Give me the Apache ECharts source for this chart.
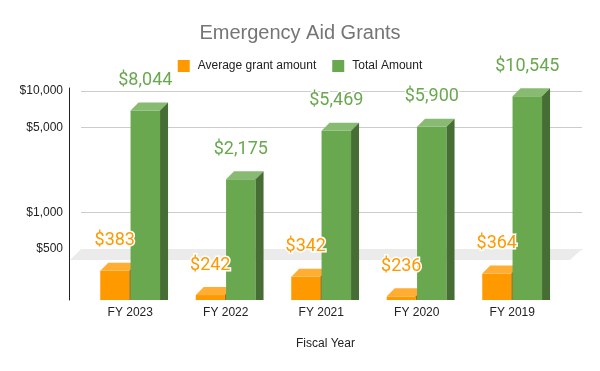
<!DOCTYPE html>
<html>
<head>
<meta charset="utf-8">
<script src="https://cdn.jsdelivr.net/npm/echarts@6/dist/echarts.min.js"></script>
<style>html,body{margin:0;padding:0;background:#fff}#c{width:600px;height:371px}</style>
</head>
<body>
<div id="c"></div>
<script>
const categories = ['FY 2023', 'FY 2022', 'FY 2021', 'FY 2020', 'FY 2019'];
const avgGrant = [383, 242, 342, 236, 364];
const totalAmount = [8044, 2175, 5469, 5900, 10545];
const yTicks = [500, 1000, 5000, 10000];
const seriesNames = ['Average grant amount', 'Total Amount'];

const Y_MIN = 220.3, Y_MAX = 10586;
const DEPTH = 8;

const palette = [
  { front: '#ff9900', top: '#ffad33', side: '#b36b00', x0: -30, w: 29 },
  { front: '#6aa84f', top: '#88ba72', side: '#466e34', x0: 0.3, w: 29.5 }
];

function fmt(v) { return '$' + v.toLocaleString('en-US'); }

function makeRender(si) {
  const p = palette[si];
  return function (params, api) {
    const idx = api.value(0), val = api.value(1);
    const pt = api.coord([idx, val]);
    const base = api.coord([idx, Y_MIN]);
    const x0 = pt[0] + p.x0, w = p.w;
    const yt = pt[1] + DEPTH, yb = base[1] + DEPTH;
    return { type: 'group', children: [
      { type: 'rect', shape: { x: x0, y: yt, width: w, height: yb - yt }, style: { fill: p.front } },
      { type: 'polygon', shape: { points: [[x0, yt], [x0 + w, yt], [x0 + w + DEPTH, yt - DEPTH], [x0 + DEPTH, yt - DEPTH]] }, style: { fill: p.top } },
      { type: 'polygon', shape: { points: [[x0 + w, yt], [x0 + w + DEPTH, yt - DEPTH], [x0 + w + DEPTH, yb], [x0 + w, yb]] }, style: { fill: p.side } }
    ] };
  };
}

function makeLabelRender(si) {
  const p = palette[si];
  return function (params, api) {
    const idx = api.value(0), val = api.value(1);
    const pt = api.coord([idx, val]);
    const cx = pt[0] + p.x0 + p.w / 2;
    const cy = pt[1] + DEPTH - 30;
    return { type: 'group', children: [
      { type: 'text', z2: 1, style: { text: fmt(val), x: cx, y: cy, align: 'center', verticalAlign: 'middle', font: '18px Roboto', fill: '#fff', stroke: '#fff', lineWidth: 3 } },
      { type: 'text', z2: 2, style: { text: fmt(val), x: cx, y: cy, align: 'center', verticalAlign: 'middle', font: '18px Roboto', fill: p.front } }
    ] };
  };
}

const chart = echarts.init(document.getElementById('c'), null, { renderer: 'canvas' });
chart.setOption({
  animation: false,
  textStyle: { fontFamily: 'Liberation Sans, Arial, sans-serif' },
  title: {
    text: 'Emergency Aid Grants', left: 'center', top: 18,
    textStyle: { fontSize: 20, fontWeight: 'normal', color: '#757575', fontFamily: 'Liberation Sans, Arial, sans-serif' }
  },
  legend: {
    top: 55, left: 'center', icon: 'rect', itemWidth: 12, itemHeight: 12, itemGap: 16,
    data: seriesNames,
    textStyle: { fontSize: 12, color: '#222', padding: [0, 0, 0, 3] }
  },
  graphic: [{
    type: 'polygon', z: 1,
    shape: { points: [[81, 249], [582, 249], [570, 260], [70, 260]] },
    style: { fill: '#ebebeb' }
  }],
  grid: [
    { left: 81, right: 18, top: 88, bottom: 79 },
    { left: 82.5, right: 40, top: 88, bottom: 79 },
    { left: 69, right: 18, top: 88, bottom: 71 }
  ],
  xAxis: [
    { gridIndex: 0, type: 'category', data: categories, show: false },
    { gridIndex: 1, type: 'category', data: categories,
      axisLine: { show: false }, axisTick: { show: false },
      axisLabel: { margin: 15, fontSize: 12, color: '#222' } },
    { gridIndex: 2, type: 'value', min: 0, max: 1,
      axisLine: { show: false }, axisTick: { show: false }, axisLabel: { show: false }, splitLine: { show: false },
      name: 'Fiscal Year', nameLocation: 'middle', nameGap: 38,
      nameTextStyle: { fontSize: 12, color: '#222' } }
  ],
  yAxis: [
    { gridIndex: 0, type: 'log', min: Y_MIN, max: Y_MAX, offset: 12,
      axisLine: { show: false },
      axisTick: { show: false, customValues: yTicks },
      axisLabel: { customValues: yTicks, margin: 6, fontSize: 12, color: '#222', formatter: v => fmt(v) },
      splitLine: { show: true, lineStyle: { color: '#cccccc', width: 1 } } },
    { gridIndex: 1, type: 'log', min: Y_MIN, max: Y_MAX, show: false },
    { gridIndex: 2, type: 'value', min: 0, max: 1,
      axisLine: { show: true, lineStyle: { color: '#222', width: 1 } },
      axisTick: { show: false }, axisLabel: { show: false }, splitLine: { show: false } }
  ],
  series: [
    { name: seriesNames[0], type: 'custom', xAxisIndex: 1, yAxisIndex: 1, z: 3,
      itemStyle: { color: palette[0].front },
      renderItem: makeRender(0), data: avgGrant.map((v, i) => [i, v]) },
    { name: seriesNames[1], type: 'custom', xAxisIndex: 1, yAxisIndex: 1, z: 4,
      itemStyle: { color: palette[1].front },
      renderItem: makeRender(1), data: totalAmount.map((v, i) => [i, v]) },
    { name: 'labels-avg', type: 'custom', xAxisIndex: 1, yAxisIndex: 1, z: 10, silent: true,
      renderItem: makeLabelRender(0), data: avgGrant.map((v, i) => [i, v]) },
    { name: 'labels-total', type: 'custom', xAxisIndex: 1, yAxisIndex: 1, z: 10, silent: true,
      renderItem: makeLabelRender(1), data: totalAmount.map((v, i) => [i, v]) }
  ]
});
</script>
</body>
</html>
